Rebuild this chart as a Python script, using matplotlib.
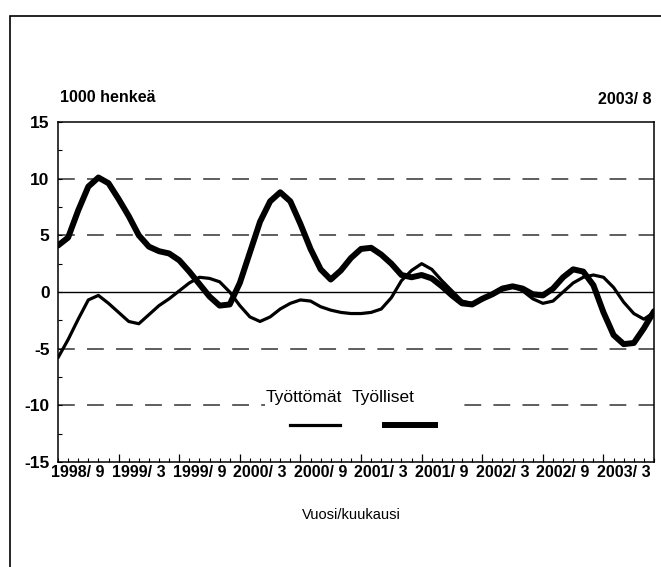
import numpy as np
import matplotlib.pyplot as plt
from matplotlib.patches import Rectangle
from matplotlib import font_manager

# monthly values, 1998/9 .. 2003/8 (1000 persons, change from previous year)
tyolliset = [4.1, 4.8, 7.2, 9.3, 10.1, 9.6, 8.2, 6.7, 5.0, 4.0,
             3.6, 3.4, 2.8, 1.8, 0.7, -0.4, -1.2, -1.1, 0.8, 3.5,
             6.2, 8.0, 8.8, 8.0, 6.0, 3.8, 2.0, 1.1, 1.9, 3.0,
             3.8, 3.9, 3.3, 2.5, 1.5, 1.3, 1.5, 1.2, 0.5, -0.3,
             -1.0, -1.1, -0.6, -0.2, 0.3, 0.5, 0.3, -0.2, -0.3, 0.3,
             1.3, 2.0, 1.8, 0.6, -1.8, -3.8, -4.6, -4.5, -3.2, -1.7]
tyottomat = [-5.8, -4.2, -2.4, -0.7, -0.3, -1.0, -1.8, -2.6, -2.8, -2.0,
             -1.2, -0.6, 0.1, 0.8, 1.3, 1.2, 0.9, 0.0, -1.2, -2.2,
             -2.6, -2.2, -1.5, -1.0, -0.7, -0.8, -1.3, -1.6, -1.8, -1.9,
             -1.9, -1.8, -1.5, -0.5, 1.0, 1.9, 2.5, 2.0, 1.0, 0.1,
             -0.8, -1.0, -0.7, -0.1, 0.4, 0.5, 0.1, -0.6, -1.0, -0.8,
             0.0, 0.8, 1.3, 1.5, 1.3, 0.4, -0.9, -1.9, -2.4, -1.8]
xlabels = ['1998/ 9', '1999/ 3', '1999/ 9', '2000/ 3', '2000/ 9',
           '2001/ 3', '2001/ 9', '2002/ 3', '2002/ 9', '2003/ 3']
yticks = [-15, -10, -5, 0, 5, 10, 15]

names = {f.name for f in font_manager.fontManager.ttflist}
fam = 'Liberation Sans Narrow' if 'Liberation Sans Narrow' in names else 'Liberation Sans'
plt.rcParams['font.family'] = [fam, 'DejaVu Sans']

fig = plt.figure(figsize=(6.61, 5.67), dpi=100)
fig.patches.append(Rectangle((10/661, -0.05), 1.0, 1 - 16/567 + 0.05,
                             transform=fig.transFigure, fill=False,
                             lw=1.2, ec='black'))
ax = fig.add_axes([58/661, 1 - 462/567, 596/661, 340/567])

m = np.arange(len(tyolliset))
ax.plot(m, tyottomat, color='black', lw=2.3, solid_joinstyle='round',
        solid_capstyle='round', zorder=3)
ax.plot(m, tyolliset, color='black', lw=4.3, solid_joinstyle='round',
        solid_capstyle='round', zorder=4)

for v in [10, 5, -5, -10]:
    ax.axhline(v, color='#333333', lw=1.1, dashes=(11, 8), zorder=1)
ax.axhline(0, color='black', lw=1.0, zorder=1)

ax.set_xlim(0, len(tyolliset) - 1)
ax.set_ylim(-15, 15)
ax.set_yticks(yticks)
ax.set_yticklabels([str(v) for v in yticks], fontsize=12.5, fontweight='bold')
ax.set_yticks(np.arange(-12.5, 15, 5), minor=True)
ax.tick_params(axis='y', which='both', direction='in', length=3, width=0.8, pad=6)

ax.set_xticks(np.arange(6, len(tyolliset), 6))
ax.set_xticks(np.arange(0, len(tyolliset)), minor=True)
ax.tick_params(axis='x', which='major', direction='in', length=6, width=0.9, labelbottom=False)
ax.tick_params(axis='x', which='minor', direction='in', length=3, width=0.8)
for i, lab in enumerate(xlabels):
    ax.text(6 * i + 2, -15.3, lab, ha='center', va='top', fontsize=11.5,
            fontweight='bold', transform=ax.transData)
for s in ax.spines.values():
    s.set_linewidth(1.1)

fig.text(60/661, 1 - 98/567, '1000 henkeä', fontsize=11.5, fontweight='bold',
         va='center', ha='left')
fig.text(652/661, 1 - 100/567, '2003/ 8', fontsize=11.5, fontweight='bold',
         va='center', ha='right')
fig.text(351/661, 1 - 515/567, 'Vuosi/kuukausi', fontsize=10.5,
         va='center', ha='center')

# legend
ax.add_patch(Rectangle((20.5, -10.8), 19.3, 2.2, fc='white', ec='none', zorder=2))
ax.text(24.3, -9.3, 'Työttömät', ha='center', va='center', fontsize=12.5, zorder=5)
ax.text(32.2, -9.3, 'Työlliset', ha='center', va='center', fontsize=12.5, zorder=5)
ax.plot([23.0, 27.9], [-11.7, -11.7], color='black', lw=2.3, zorder=5)
ax.plot([32.4, 37.3], [-11.7, -11.7], color='black', lw=4.3, zorder=5)

fig.savefig('out.png', dpi=100)
